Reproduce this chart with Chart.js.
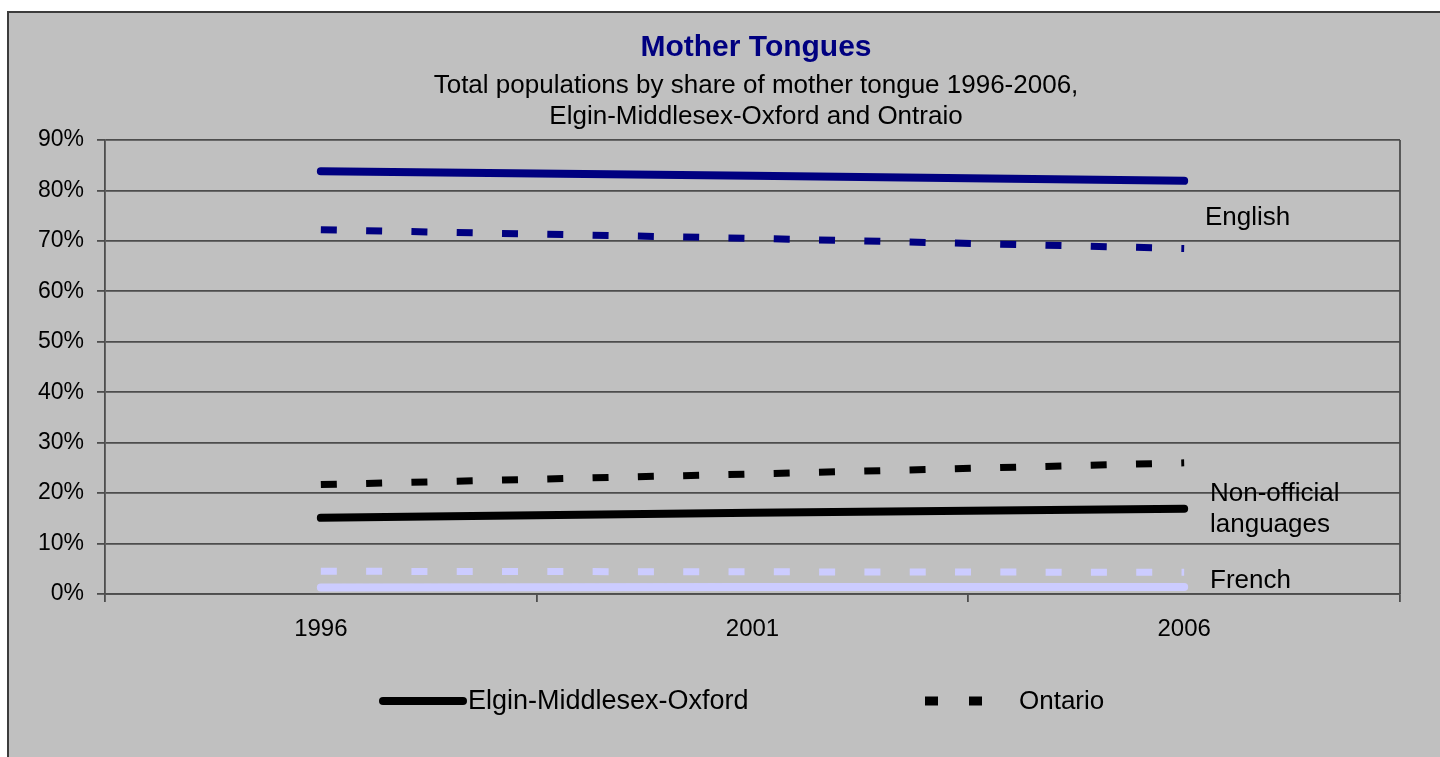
<!DOCTYPE html>
<html>
<head>
<meta charset="utf-8">
<script src="https://cdn.jsdelivr.net/npm/chart.js@4.4.1/dist/chart.umd.min.js"></script>
<style>
  html, body { margin: 0; padding: 0; background: #ffffff; width: 1440px; height: 757px; overflow: hidden; }
  #frame { position: absolute; left: 7px; top: 11px; width: 1433px; height: 746px; background: #c0c0c0;
           border-left: 2px solid #3c3c3c; border-top: 2px solid #3c3c3c; box-sizing: border-box; }
  #wrap { position: absolute; left: 0; top: 0; width: 1440px; height: 757px; }
</style>
</head>
<body>
<div id="frame"></div>
<div id="wrap"><canvas id="c" width="1440" height="757"></canvas></div>
<script>
// ---- data ----
const years = ['1996', '2001', '2006'];
const emoEnglish = [83.8, 82.9, 81.9];
const ontEnglish = [72.2, 70.5, 68.5];
const emoNonOfficial = [15.1, 16.1, 16.9];
const ontNonOfficial = [21.7, 23.8, 26.0];
const emoFrench = [1.3, 1.4, 1.4];
const ontFrench = [4.5, 4.4, 4.3];
const yTicks = [0, 10, 20, 30, 40, 50, 60, 70, 80, 90];
const titleText = 'Mother Tongues';
const subtitleLines = ['Total populations by share of mother tongue 1996-2006,', 'Elgin-Middlesex-Oxford and Ontraio'];
const legendNames = ['Elgin-Middlesex-Oxford', 'Ontario'];
const seriesLabels = ['English', 'Non-official', 'languages', 'French'];

const FONT = '"Liberation Sans", Arial, sans-serif';
const NAVY = '#000080', BLACK = '#000000', LAV = '#ccccff';
const GRID = '#4d4d4d';
const DASH = [16, 29.3];

function solid(label, data, color) {
  return { label, data, borderColor: color, backgroundColor: color, borderWidth: 8,
           borderCapStyle: 'round', borderJoinStyle: 'round', pointRadius: 0, tension: 0, fill: false };
}
function dashed(label, data, color) {
  return { label, data, borderColor: color, backgroundColor: color, borderWidth: 7,
           borderDash: DASH, borderCapStyle: 'butt', borderJoinStyle: 'miter', pointRadius: 0, tension: 0, fill: false };
}

const decor = {
  id: 'decor',
  afterDraw(chart) {
    const ctx = chart.ctx, ca = chart.chartArea;
    ctx.save();
    // right border of the plot area
    ctx.strokeStyle = GRID; ctx.lineWidth = 1.8;
    ctx.beginPath(); ctx.moveTo(ca.right, ca.top); ctx.lineTo(ca.right, ca.bottom); ctx.stroke();
    ctx.textBaseline = 'middle';
    // title
    ctx.textAlign = 'center';
    ctx.fillStyle = NAVY; ctx.font = 'bold 30px ' + FONT;
    ctx.fillText(titleText, 756, 48);
    ctx.fillStyle = '#000'; ctx.font = '26px ' + FONT;
    ctx.fillText(subtitleLines[0], 756, 86);
    ctx.fillText(subtitleLines[1], 756, 117);
    // series labels on the right
    ctx.textAlign = 'left';
    ctx.font = '26px ' + FONT;
    ctx.fillText(seriesLabels[0], 1205, 218);
    ctx.fillText(seriesLabels[1], 1210, 494);
    ctx.fillText(seriesLabels[2], 1210, 525);
    ctx.fillText(seriesLabels[3], 1210, 581);
    // legend
    const ly = 701;
    ctx.strokeStyle = '#000'; ctx.lineWidth = 8; ctx.lineCap = 'round';
    ctx.beginPath(); ctx.moveTo(383, ly); ctx.lineTo(463, ly); ctx.stroke();
    ctx.font = '27px ' + FONT;
    ctx.fillText(legendNames[0], 468, ly + 1);
    ctx.lineCap = 'butt'; ctx.lineWidth = 9;
    ctx.beginPath(); ctx.moveTo(925, ly); ctx.lineTo(938, ly); ctx.moveTo(969, ly); ctx.lineTo(982, ly); ctx.stroke();
    ctx.font = '26px ' + FONT;
    ctx.fillText(legendNames[1], 1019, ly + 1);
    ctx.restore();
  }
};

new Chart(document.getElementById('c'), {
  type: 'line',
  data: {
    labels: years,
    datasets: [
      solid('Elgin-Middlesex-Oxford English', emoEnglish, NAVY),
      dashed('Ontario English', ontEnglish, NAVY),
      solid('Elgin-Middlesex-Oxford Non-official languages', emoNonOfficial, BLACK),
      dashed('Ontario Non-official languages', ontNonOfficial, BLACK),
      solid('Elgin-Middlesex-Oxford French', emoFrench, LAV),
      dashed('Ontario French', ontFrench, LAV)
    ]
  },
  options: {
    responsive: false,
    animation: false,
    events: [],
    layout: { padding: { left: 0, top: 140, right: 40, bottom: 103 } },
    plugins: { legend: { display: false }, title: { display: false }, tooltip: { enabled: false } },
    scales: {
      x: {
        type: 'category',
        offset: true,
        grid: { display: true, drawOnChartArea: false, drawTicks: true, tickLength: 8, color: GRID, lineWidth: 1.8, offset: true },
        border: { display: true, color: GRID, width: 1.8 },
        ticks: { color: '#000', font: { family: FONT, size: 24 }, padding: 13, maxRotation: 0 },
        afterFit(s) { s.height = 60; }
      },
      y: {
        min: 0, max: 90,
        afterBuildTicks(s) { s.ticks = yTicks.map(v => ({ value: v })); },
        grid: { color: GRID, lineWidth: 1.8, tickLength: 8, drawTicks: true },
        border: { display: true, color: GRID, width: 1.8 },
        ticks: { color: '#000', font: { family: FONT, size: 23 }, padding: 13, callback: v => v + '%' },
        afterFit(s) { s.width = 105; }
      }
    }
  },
  plugins: [decor]
});
</script>
</body>
</html>
